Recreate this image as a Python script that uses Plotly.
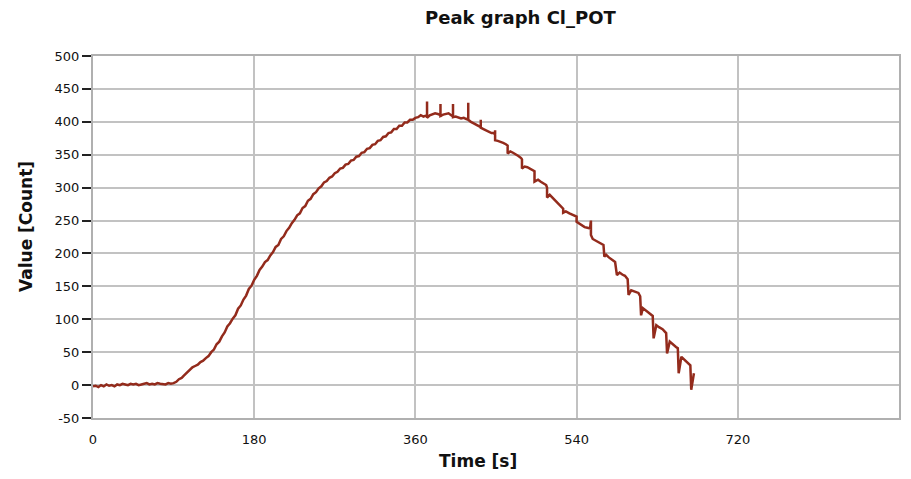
import plotly.graph_objects as go

# ---- data (time in s, value in counts) ----
time_s = [
    0, 3, 6, 9, 12, 15, 18, 21, 24, 27, 30, 33, 36, 39, 42, 45, 48, 51, 54, 57,
    60, 63, 66, 69, 72, 75, 78, 81, 84, 87, 90,
    93, 96, 99, 102, 105, 108, 111, 114, 117, 120, 123, 126, 129, 132, 135, 138,
    141, 144, 147, 150, 153, 156, 159, 162, 165, 168, 171, 174, 177, 180, 183,
    186, 189, 192, 195, 198, 201, 204, 207, 210, 213, 216, 219, 222, 225, 228,
    231, 234, 237, 240, 243, 246, 249, 252, 255, 258, 261, 264, 267, 270, 273,
    276, 279, 282, 285, 288, 291, 294, 297, 300, 303, 306, 309, 312, 315, 318,
    321, 324, 327, 330, 333, 336, 339, 342, 345, 348, 351, 354, 357, 360, 363,
    366, 369, 371,
    373, 373, 373, 376, 379, 382, 385, 388, 388, 388, 391, 394, 397, 400,
    402, 402, 402, 405, 408, 411, 414, 417, 419, 419, 419, 422, 425, 428, 431,
    433, 433, 433, 436, 439, 442, 445, 447, 449, 449, 449, 452, 455, 458, 461,
    463, 463, 466, 469, 472, 475, 478, 479, 479, 482, 485, 488, 491, 493, 493,
    497, 500, 503, 506, 507, 507, 510, 513, 516, 519, 521, 524, 525, 525, 528,
    532, 536, 540, 540, 542, 546, 549, 552, 555, 556, 556, 558, 562, 566, 570,
    571, 573, 576, 579, 583, 585, 588, 591, 594, 597, 598, 601, 605, 609, 611,
    612, 614, 618, 622, 625, 626, 629, 632, 636, 640, 641, 644, 647, 651, 653,
    654, 657, 660, 664, 667, 668, 671,
]
value_count = [
    -2, -1, -3, 0, -2, 1, -1, 0, -2, 1, 0, 2, 1, 0, 2, 1, 2, 0, 1, 2,
    3, 1, 2, 1, 3, 2, 2, 1, 3, 2, 3,
    5, 9, 11, 15, 19, 22, 27, 29, 31, 35, 37, 41, 44, 50, 54, 62,
    66, 74, 80, 89, 94, 101, 106, 116, 121, 130, 136, 146, 151, 160, 166,
    175, 180, 187, 190, 197, 202, 210, 213, 222, 226, 234, 239, 246, 251, 258,
    261, 269, 272, 280, 283, 290, 293, 299, 302, 308, 310, 315, 317, 322, 324,
    329, 330, 335, 336, 341, 342, 347, 348, 353, 354, 359, 360, 365, 366, 371,
    372, 377, 378, 383, 384, 389, 389, 394, 394, 399, 399, 403, 403, 406, 407,
    410, 408, 409,
    408, 431, 406, 410, 412, 413, 412, 410, 427, 409, 411, 412, 413, 410,
    408, 427, 407, 408, 407, 405, 406, 404, 405, 429, 403, 400, 398, 395, 393,
    392, 403, 391, 389, 387, 385, 383, 383, 381, 387, 372, 371, 370, 368, 366,
    364, 352, 355, 353, 351, 348, 345, 343, 329, 332, 331, 329, 327, 325, 309,
    312, 309, 306, 304, 300, 285, 289, 285, 281, 277, 274, 270, 268, 262, 264,
    261, 258, 256, 248, 246, 243, 240, 239, 238, 250, 228, 222, 219, 216, 213,
    195, 198, 194, 191, 187, 167, 171, 168, 166, 161, 137, 144, 142, 140, 135,
    106, 117, 113, 109, 105, 71, 91, 88, 85, 79, 48, 66, 62, 58, 56,
    18, 43, 39, 35, 30, -7, 18,
]

x_ticks = [0, 180, 360, 540, 720]
y_ticks = [-50, 0, 50, 100, 150, 200, 250, 300, 350, 400, 450, 500]

title_text = "Peak graph Cl_POT"
x_title = "Time [s]"
y_title = "Value [Count]"

LINE = "#932b1c"
GRID = "#c2c2c2"
FONT = "DejaVu Sans"

W, H = 911, 479
ML, MR, MT, MB = 93, 12, 56, 61

fig = go.Figure()
fig.add_trace(go.Scatter(
    x=time_s, y=value_count, mode="lines",
    line=dict(color=LINE, width=2.5), showlegend=False,
))

fig.update_layout(
    width=W, height=H,
    margin=dict(l=ML, r=MR, t=MT, b=MB, autoexpand=False),
    paper_bgcolor="white", plot_bgcolor="white",
    font=dict(family=FONT, size=13, color="#111111"),
    showlegend=False,
)

plot_w = W - ML - MR
plot_h = H - MT - MB
def px_to_paper_x(px):
    return (px - ML) / plot_w
def px_to_paper_y(py):
    return (H - MB - py) / plot_h

fig.add_annotation(text=f"<b>{title_text}</b>", x=px_to_paper_x(521), y=px_to_paper_y(17),
                   xref="paper", yref="paper", showarrow=False,
                   font=dict(family=FONT, size=18, color="#111111"),
                   xanchor="center", yanchor="middle")
fig.add_annotation(text=f"<b>{x_title}</b>", x=px_to_paper_x(478), y=px_to_paper_y(461),
                   xref="paper", yref="paper", showarrow=False,
                   font=dict(family=FONT, size=17, color="#111111"),
                   xanchor="center", yanchor="middle")
fig.add_annotation(text=f"<b>{y_title}</b>", x=px_to_paper_x(26), y=px_to_paper_y(227),
                   xref="paper", yref="paper", showarrow=False, textangle=-90,
                   font=dict(family=FONT, size=17, color="#111111"),
                   xanchor="center", yanchor="middle")

fig.update_xaxes(
    range=[0, 900], tickvals=x_ticks, ticktext=[str(v) for v in x_ticks],
    showgrid=True, gridcolor=GRID, gridwidth=2,
    showline=True, linecolor="#b0b0b0", linewidth=2, mirror=True,
    ticks="", ticklabelstandoff=8, zeroline=False, automargin=False,
    tickfont=dict(family=FONT, size=13, color="#111111"),
)
fig.update_yaxes(
    range=[-50, 500], tickvals=y_ticks, ticktext=[str(v) for v in y_ticks],
    showgrid=True, gridcolor=GRID, gridwidth=2,
    showline=True, linecolor="#b0b0b0", linewidth=2, mirror=True,
    ticks="outside", ticklen=9, tickwidth=2, tickcolor="#222222",
    zeroline=False, automargin=False,
    tickfont=dict(family=FONT, size=13, color="#111111"),
)

fig.write_html(
    "out.html",
    config={"displayModeBar": False},
    post_script="document.body.style.margin='0';document.body.style.padding='0';",
)
